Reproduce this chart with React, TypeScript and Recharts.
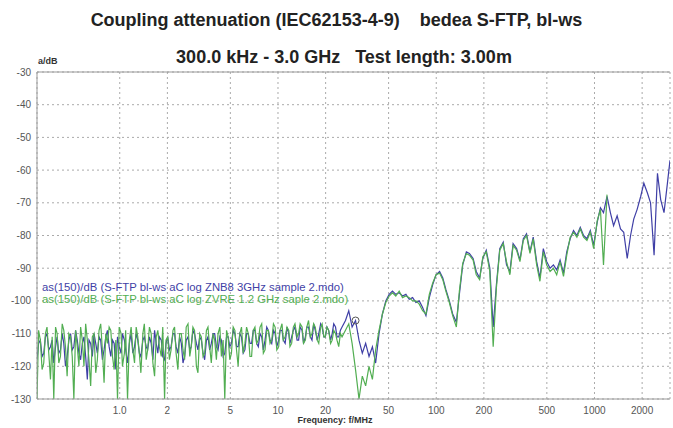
import React from 'react';
import {
  LineChart,
  Line,
  XAxis,
  YAxis,
  CartesianGrid,
  ReferenceLine,
  ReferenceDot,
} from 'recharts';

// sweep points, MHz (denser below 25 MHz)
const freqMHz = [
  0.3, 0.307, 0.315, 0.323, 0.331, 0.339, 0.347, 0.356, 0.365, 0.374,
  0.383, 0.393, 0.402, 0.412, 0.422, 0.433, 0.443, 0.454, 0.465, 0.477,
  0.489, 0.501, 0.513, 0.526, 0.539, 0.552, 0.566, 0.58, 0.594, 0.609,
  0.624, 0.639, 0.655, 0.671, 0.688, 0.705, 0.722, 0.74, 0.758, 0.777,
  0.796, 0.816, 0.836, 0.857, 0.878, 0.9, 0.922, 0.945, 0.968, 0.992,
  1.02, 1.04, 1.07, 1.09, 1.12, 1.15, 1.18, 1.21, 1.24, 1.27,
  1.3, 1.33, 1.36, 1.4, 1.43, 1.47, 1.5, 1.54, 1.58, 1.62,
  1.66, 1.7, 1.74, 1.78, 1.83, 1.87, 1.92, 1.96, 2.01, 2.06,
  2.11, 2.17, 2.22, 2.27, 2.33, 2.39, 2.45, 2.51, 2.57, 2.63,
  2.7, 2.77, 2.83, 2.9, 2.97, 3.05, 3.12, 3.2, 3.28, 3.36,
  3.44, 3.53, 3.61, 3.7, 3.79, 3.89, 3.98, 4.08, 4.18, 4.29,
  4.39, 4.5, 4.61, 4.73, 4.84, 4.96, 5.08, 5.21, 5.34, 5.47,
  5.6, 5.74, 5.88, 6.03, 6.18, 6.33, 6.49, 6.65, 6.81, 6.98,
  7.15, 7.33, 7.51, 7.7, 7.89, 8.08, 8.28, 8.49, 8.69, 8.91,
  9.13, 9.36, 9.59, 9.83, 10.1, 10.3, 10.6, 10.8, 11.1, 11.4,
  11.7, 11.9, 12.2, 12.5, 12.8, 13.2, 13.5, 13.8, 14.2, 14.5,
  14.9, 15.2, 15.6, 16.0, 16.4, 16.8, 17.2, 17.7, 18.1, 18.6,
  19.0, 19.5, 19.9, 20.4, 20.9, 21.5, 22.0, 22.5, 23.1, 23.6,
  24.2, 24.8,
  25.4, 26.7, 28.0, 29.4, 30.9, 32.5, 34.1, 35.8, 37.6,
  39.5, 41.4, 43.5, 45.7, 48.0, 50.4, 52.9, 55.5, 58.3, 61.2,
  64.3, 67.5, 70.9, 74.4, 78.1, 82.0, 86.1, 90.4, 95.0, 99.7,
  105, 110, 115, 121, 127, 134, 140, 147, 155, 162,
  171, 179, 188, 197, 207, 218, 229, 240, 252, 265,
  278, 292, 306, 322, 338, 355, 372, 391, 410, 431,
  452, 475, 499, 524, 550, 577, 606, 637, 668, 702,
  737, 774, 813, 853, 896, 941, 988, 1040, 1090, 1140,
  1200, 1260, 1320, 1390, 1460, 1530, 1610, 1690, 1770, 1860,
  1960, 2050, 2160, 2260, 2380, 2500, 2620, 2750, 2890, 3000,
];

// as(150)/dB, ZNB8 3GHz sample 2
const znb8Db = [
  -118, -113, -112, -117, -116, -111, -110, -115, -114, -112,
  -119, -114, -111, -116, -115, -110, -113, -120, -117, -112,
  -110, -115, -114, -109, -112, -116, -118, -113, -111, -117,
  -124, -112, -113, -117, -110, -113, -116, -111, -112, -118,
  -115, -111, -109, -114, -117, -112, -113, -121, -111, -114,
  -116, -110, -112, -115, -119, -113, -110, -116, -114, -110,
  -112, -116, -117, -112, -111, -114, -115, -111, -113, -118,
  -109, -113, -116, -111, -112, -117, -118, -113, -111, -115,
  -114, -110, -110, -114, -116, -111, -113, -119, -117, -112,
  -111, -115, -114, -109, -110, -113, -115, -111, -112, -116,
  -118, -112, -111, -115, -113, -110, -110, -114, -115, -111,
  -112, -117, -116, -111, -111, -114, -113, -109, -110, -114,
  -114, -110, -111, -116, -115, -110, -110, -113, -113, -109,
  -109, -113, -114, -110, -111, -115, -112, -108, -109, -112,
  -113, -109, -110, -114, -112, -109, -109, -112, -113, -108,
  -110, -113, -111, -109, -108, -112, -112, -108, -109, -113,
  -111, -108, -108, -111, -112, -107, -109, -112, -110, -107,
  -108, -111, -111, -108, -109, -112, -110, -107, -108, -111,
  -111, -109,
  -108, -106, -103, -108, -106, -112, -116, -113, -117,
  -114, -119, -110, -104, -100, -98, -97, -98, -97.5, -98.5,
  -98, -99.5, -99, -100.5, -100, -102, -104.5, -99, -95, -92,
  -91, -93, -96.5, -100, -104, -106.5, -98, -89, -85, -85.5,
  -87, -91, -93, -87, -84.5, -90, -108, -95, -84, -82,
  -89, -91, -82.5, -84, -87.5, -81, -79.5, -85, -80.5, -88,
  -93, -84, -88, -90, -89, -90.5, -87.5, -91.5, -85, -81,
  -78.5, -80, -77.5, -80, -81, -78.5, -83, -76, -71.5, -73,
  -68, -73, -77, -74, -78, -79, -87, -80, -75, -72,
  -68, -64, -67, -70, -86, -61, -69, -73, -64, -57,
];

// as(150)/dB, ZVRE 1.2 GHz sample 2 (ends at 1.2 GHz)
const zvreDb = [
  -130, -109, -112, -121, -119, -110, -108, -116, -124, -111,
  -130, -108, -110, -119, -117, -107, -109, -114, -123, -110,
  -111, -117, -130, -109, -114, -120, -108, -112, -120, -107,
  -112, -118, -126, -111, -110, -122, -118, -109, -107, -115,
  -125, -110, -113, -108, -109, -117, -121, -112, -130, -108,
  -110, -120, -116, -109, -130, -112, -108, -115, -119, -108,
  -111, -116, -122, -110, -107, -118, -115, -108, -110, -119,
  -123, -111, -109, -114, -117, -108, -130, -112, -111, -118,
  -115, -109, -108, -116, -121, -110, -110, -115, -118, -108,
  -107, -117, -114, -108, -109, -120, -122, -110, -111, -117,
  -116, -109, -108, -114, -119, -110, -112, -118, -110, -108,
  -117, -112, -130, -109, -111, -118, -116, -108, -109, -115,
  -120, -110, -108, -116, -113, -108, -110, -117, -117, -109,
  -108, -113, -112, -108, -107, -116, -115, -109, -109, -113,
  -112, -107, -108, -115, -114, -109, -107, -112, -111, -108,
  -109, -114, -113, -108, -107, -111, -110, -107, -108, -113,
  -112, -108, -106, -111, -110, -107, -108, -112, -113, -108,
  -107, -111, -111, -108, -109, -113, -112, -109, -110, -112,
  -114, -110,
  -111, -109, -107, -113, -121, -130, -123, -126, -120,
  -124, -115, -109, -104, -100.5, -98.5, -97.5, -98.5, -97, -99,
  -98.5, -99, -100, -100, -101, -103, -104, -98, -94.5, -92,
  -91.5, -93.5, -97, -100.5, -104.5, -108, -97, -88.5, -85.5, -86,
  -87.5, -92, -93.5, -86.5, -85, -91, -114, -96, -84.5, -82.5,
  -88, -92, -83, -84.5, -88, -81.5, -80, -85.5, -81, -89,
  -94, -85, -89, -91, -90, -92, -88, -92.5, -86, -80.5,
  -79, -80.5, -78, -80.5, -81.5, -79, -84, -75.5, -72, -89,
  -67.5,
];

const xTicks = [1, 2, 5, 10, 20, 50, 100, 200, 500, 1000, 2000];
const yTicks = [-130, -120, -110, -100, -90, -80, -70, -60, -50, -40, -30];
const marker = { f: 30.9, db: -106 };

const data = freqMHz.map((f, i) => ({
  f,
  znb8: znb8Db[i],
  zvre: i < zvreDb.length ? zvreDb[i] : null,
}));

const FONT = 'Arial, "Liberation Sans", sans-serif';
const BLUE = '#3f3fa6';
const GREEN = '#52ae52';

export default function App() {
  return (
    <div style={{ position: 'relative', width: 673, height: 428, background: '#fff', fontFamily: FONT }}>
      <style>{'body{margin:0}'}</style>
      <LineChart width={673} height={428} data={data} margin={{ top: 72, right: 3, bottom: 0, left: 0 }}>
        <CartesianGrid stroke="#aaa" strokeDasharray="2 3" />
        <XAxis
          dataKey="f"
          type="number"
          scale="log"
          domain={[0.3, 3000]}
          ticks={xTicks}
          allowDataOverflow
          height={29}
          tickLine={false}
          tickMargin={2}
          axisLine={{ stroke: '#999' }}
          tick={{ fontSize: 10, fill: '#555', fontFamily: FONT }}
          tickFormatter={(v: number) => (v === 1 ? '1.0' : String(v))}
        />
        <YAxis
          type="number"
          domain={[-130, -30]}
          ticks={yTicks}
          allowDataOverflow
          width={37}
          tickLine={false}
          tickSize={4}
          tickMargin={2}
          axisLine={{ stroke: '#999' }}
          tick={{ fontSize: 10, fill: '#555', fontFamily: FONT }}
        />
        <ReferenceLine y={-30} stroke="#999" />
        <Line dataKey="znb8" stroke={BLUE} strokeWidth={1.2} dot={false} isAnimationActive={false} />
        <Line dataKey="zvre" stroke={GREEN} strokeWidth={1.2} dot={false} isAnimationActive={false} />
        <ReferenceDot x={marker.f} y={marker.db} r={3.5} fill="none" stroke="#555" strokeWidth={1} />
      </LineChart>

      <div style={{ position: 'absolute', left: 0, width: 673, top: 10, textAlign: 'center', fontSize: 18, fontWeight: 'bold', color: '#222', whiteSpace: 'pre' }}>
        {'Coupling attenuation (IEC62153-4-9)    bedea S-FTP, bl-ws'}
      </div>
      <div style={{ position: 'absolute', left: 0, width: 688, top: 47, textAlign: 'center', fontSize: 18, fontWeight: 'bold', color: '#222', whiteSpace: 'pre' }}>
        {'300.0 kHz - 3.0 GHz   Test length: 3.00m'}
      </div>
      <div style={{ position: 'absolute', left: 38, top: 56, fontSize: 9, fontWeight: 'bold', color: '#333' }}>a/dB</div>
      <div style={{ position: 'absolute', left: 42, top: 281, fontSize: 11.3, color: BLUE, whiteSpace: 'pre' }}>
        as(150)/dB (S-FTP bl-ws aC log ZNB8 3GHz sample 2.mdo)
      </div>
      <div style={{ position: 'absolute', left: 42, top: 293, fontSize: 11.3, color: GREEN, whiteSpace: 'pre' }}>
        as(150)/dB (S-FTP bl-ws aC log ZVRE 1.2 GHz saple 2.mdo)
      </div>
      <div style={{ position: 'absolute', left: 0, width: 670, top: 415, textAlign: 'center', fontSize: 9, fontWeight: 'bold', color: '#333' }}>
        Frequency: f/MHz
      </div>
    </div>
  );
}
